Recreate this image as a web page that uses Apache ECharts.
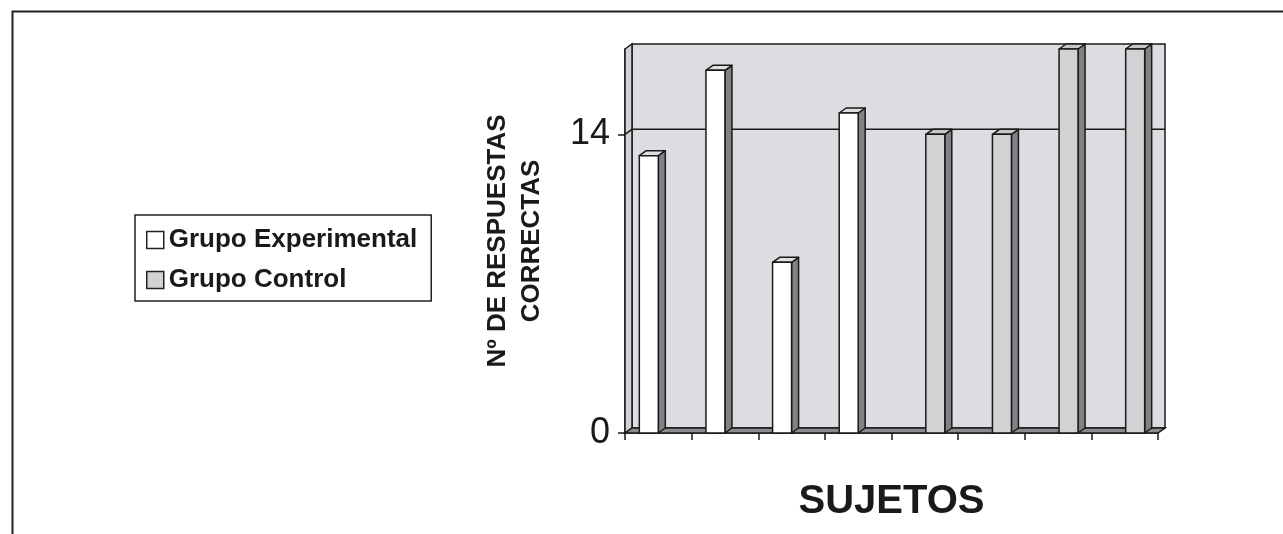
<!DOCTYPE html>
<html>
<head>
<meta charset="utf-8">
<script src="https://cdn.jsdelivr.net/npm/echarts@6/dist/echarts.min.js"></script>
<style>
html,body{margin:0;padding:0;background:#fff;}
#c{width:1283px;height:534px;}
</style>
</head>
<body>
<div id="c"></div>
<script>
// ---- data ----
const subjects = ['1', '2', '3', '4', '5', '6', '7', '8'];
const experimental = [13, 17, 8, 15, null, null, null, null];
const control = [null, null, null, null, 14, 14, 18, 18];
const yTicks = [0, 14];
const yMax = 18;
const seriesNames = ['Grupo Experimental', 'Grupo Control'];

// ---- style ----
const DX = 7, DY = 5;
const FONT = 'Liberation Sans, Arial, Helvetica, sans-serif';
const STROKE = '#1a1a1a';

const chart = echarts.init(document.getElementById('c'), null, {renderer: 'canvas'});

function toData(arr) {
  const out = [];
  arr.forEach((v, i) => { if (v !== null) out.push([i, v]); });
  return out;
}

function barRenderer(frontColor, topColor, side) {
  return function (params, api) {
    const idx = api.value(0), v = api.value(1);
    const base = api.coord([idx, 0]);
    const top = api.coord([idx, v]);
    const cw = api.size([1, 0])[0];
    const bw = cw * 0.285;
    const left = side === 'left' ? base[0] - bw : base[0] + 1;
    const r = left + bw;
    const style = {stroke: STROKE, lineWidth: 1.5, lineJoin: 'round'};
    return {
      type: 'group',
      children: [
        {type: 'polygon', shape: {points: [[r, top[1]], [r + DX, top[1] - DY], [r + DX, base[1] - DY], [r, base[1]]]},
          style: Object.assign({fill: '#808285'}, style)},
        {type: 'polygon', shape: {points: [[left, top[1]], [left + DX, top[1] - DY], [r + DX, top[1] - DY], [r, top[1]]]},
          style: Object.assign({fill: topColor}, style)},
        {type: 'rect', shape: {x: left, y: top[1], width: bw, height: base[1] - top[1]},
          style: Object.assign({fill: frontColor}, style)}
      ]
    };
  };
}

function wallRenderer(params, api) {
  const cs = params.coordSys;
  const x = cs.x, y = cs.y, w = cs.width, h = cs.height;
  const style = {stroke: STROKE, lineWidth: 1.5};
  const children = [
    {type: 'rect', shape: {x: x + DX, y: y - DY, width: w, height: h},
      style: Object.assign({fill: '#dcdde0'}, style)},
    {type: 'polygon', shape: {points: [[x, y], [x + DX, y - DY], [x + DX, y + h - DY], [x, y + h]]},
      style: Object.assign({fill: '#d2d3d6'}, style)}
  ];
  yTicks.forEach(t => {
    if (t === 0) return;
    const p = api.coord([0, t]);
    children.push({type: 'polyline', shape: {points: [[x, p[1]], [x + DX, p[1] - DY], [x + DX + w, p[1] - DY]]},
      style: {stroke: STROKE, lineWidth: 1.5, fill: null}});
  });
  children.push({type: 'polygon', shape: {points: [[x, y + h], [x + DX, y + h - DY], [x + DX + w, y + h - DY], [x + w, y + h]]},
    style: Object.assign({fill: '#8a8b8e'}, style)});
  return {type: 'group', children: children};
}

const option = {
  animation: false,
  backgroundColor: '#ffffff',
  graphic: [{
    type: 'rect', left: 10, top: 9, shape: {width: 1400, height: 700},
    style: {fill: null, stroke: '#222', lineWidth: 2}, silent: true, z: 100
  }],
  legend: {
    orient: 'vertical',
    left: 135, top: 215,
    padding: [10, 14, 6, 11],
    borderColor: '#222', borderWidth: 1.5,
    itemWidth: 17, itemHeight: 17, itemGap: 10,
    textStyle: {fontFamily: FONT, fontWeight: 'bold', fontSize: 26, color: '#1a1a1a', lineHeight: 30},
    data: [
      {name: seriesNames[0], icon: 'rect', itemStyle: {color: '#ffffff', borderColor: '#222', borderWidth: 1.5}},
      {name: seriesNames[1], icon: 'rect', itemStyle: {color: '#d1d2d4', borderColor: '#222', borderWidth: 1.5}}
    ]
  },
  grid: {left: 625, right: 125, top: 49, bottom: 101, containLabel: false},
  xAxis: {
    type: 'category',
    data: subjects,
    name: 'SUJETOS',
    nameLocation: 'middle',
    nameGap: 49,
    nameTextStyle: {fontFamily: FONT, fontWeight: 'bold', fontSize: 40, color: '#1a1a1a'},
    axisLine: {show: true, lineStyle: {color: STROKE, width: 1.5}},
    axisTick: {show: true, length: 7, lineStyle: {color: STROKE, width: 1.5}},
    axisLabel: {show: false},
    splitLine: {show: false}
  },
  yAxis: {
    type: 'value',
    min: 0, max: yMax,
    name: 'Nº DE RESPUESTAS\nCORRECTAS',
    nameLocation: 'middle',
    nameRotate: 90,
    nameGap: 76,
    nameTextStyle: {fontFamily: FONT, fontWeight: 'bold', fontSize: 26, color: '#1a1a1a', lineHeight: 34, align: 'center'},
    axisLine: {show: true, lineStyle: {color: STROKE, width: 1.5}},
    axisTick: {show: true, length: 7, customValues: yTicks, lineStyle: {color: STROKE, width: 1.5}},
    axisLabel: {customValues: yTicks, margin: 15, fontFamily: FONT, fontSize: 36, color: '#1a1a1a'},
    splitLine: {show: false}
  },
  series: [
    {
      name: 'walls', type: 'custom', silent: true, z: 1,
      renderItem: wallRenderer,
      data: [[0, 0]]
    },
    {
      name: seriesNames[0], type: 'custom', z: 3,
      itemStyle: {color: '#ffffff'},
      renderItem: barRenderer('#ffffff', '#dedfe1', 'left'),
      data: toData(experimental)
    },
    {
      name: seriesNames[1], type: 'custom', z: 3,
      itemStyle: {color: '#d1d2d4'},
      renderItem: barRenderer('#d1d2d4', '#c6c7c9', 'right'),
      data: toData(control)
    }
  ]
};
chart.setOption(option);
</script>
</body>
</html>
